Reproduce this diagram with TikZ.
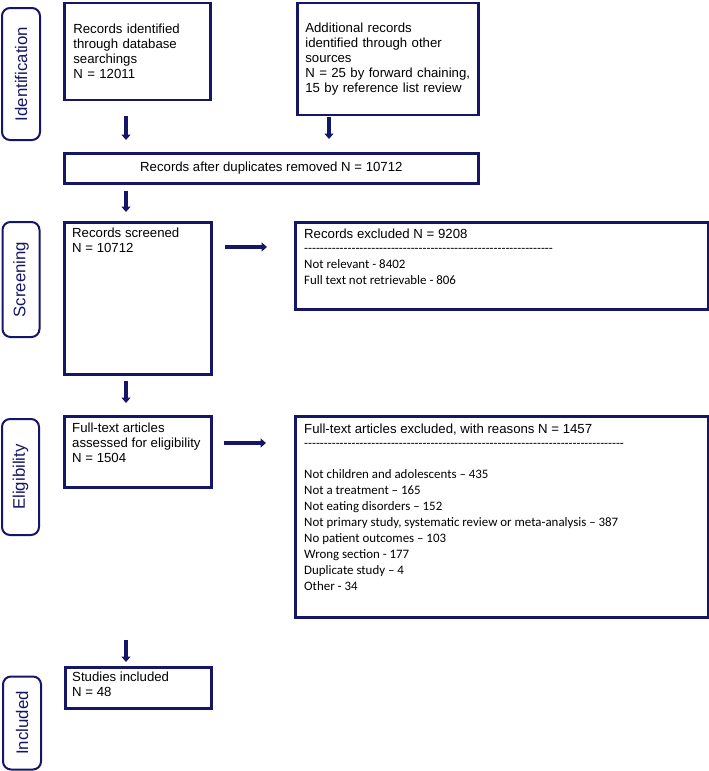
\documentclass[tikz,border=0pt]{standalone}
\usepackage{fontspec}
\setmainfont{Liberation Sans}
\newfontfamily\calibri{Carlito}
\usetikzlibrary{arrows.meta}
\usepackage{xcolor}
\definecolor{prismablue}{RGB}{22,22,104}
\newcommand{\dashrow}[1]{\foreach \k in {1,...,#1}{-}}

\begin{document}
\begin{tikzpicture}[x=1pt, y=-1pt,
	frame/.style={draw=prismablue, line width=2.7pt, inner sep=0pt, anchor=north west, font=\fontsize{13.2}{14.9}\selectfont},
	stage/.style={draw=prismablue, line width=2pt, rounded corners=8pt, rotate=90, text=prismablue, inner sep=0pt, font=\fontsize{16.8}{18}\selectfont},
	arrow/.style={draw=prismablue, line width=3.8pt, -{Triangle[length=5.5pt,width=9pt]}},
	boxtext/.style={anchor=north west, align=left, inner sep=0pt, font=\fontsize{13.2}{14.9}\selectfont},
	listtext/.style={anchor=north west, align=left, inner sep=0pt, font=\calibri\fontsize{12.9}{16.1}\selectfont}]
	\useasboundingbox (0,0) rectangle (709,771);

	% stages
	\node (idlab) [stage, minimum width=132pt, minimum height=38pt] at (21,74) {Identification};
	\node (scrlab) [stage, minimum width=115pt, minimum height=37pt] at (21,279.5) {Screening};
	\node (elilab) [stage, minimum width=116pt, minimum height=37pt] at (20.5,477) {Eligibility};
	\node (inclab) [stage, minimum width=93pt, minimum height=38pt] at (22,723) {Included};

	% boxes
	\node (dbrec) [frame, inner xsep=9pt, text width=128pt, minimum height=97pt, align=left] at (63,1.5) {Records identified\\ through database\\ searchings\\ N = 12011};
	\node (othrec) [frame, inner xsep=8pt, text width=165pt, minimum height=112pt, align=left] at (296,1.5) {Additional records\\ identified through other\\ sources\\ N = 25 by forward chaining,\\ 15 by reference list review};
	\node (dedup) [frame, minimum width=414pt, minimum height=30pt] at (63,152) {Records after duplicates removed N = 10712};

	\node (screen) [frame, minimum width=147pt, minimum height=152pt] at (63,221) {};
	\node (screentxt) [boxtext] at (72,228) {Records screened\\ N = 10712};

	\node (excl) [frame, minimum width=413pt, minimum height=87pt] at (294,221) {};
	\node (excltitle) [boxtext] at (304,229) {Records excluded N = 9208};
	\node (excldash) [listtext, anchor=base west] at (304,252.5) {\dashrow{63}};
	\node (excllist) [listtext] at (304,259) {Not relevant - 8402\\ Full text not retrievable - 806};

	\node (fulltext) [frame, minimum width=147pt, minimum height=71pt] at (63,415) {};
	\node (fulltxt) [boxtext] at (72,423) {Full-text articles\\ assessed for eligibility\\ N = 1504};

	\node (reasons) [frame, minimum width=413pt, minimum height=201pt] at (294,415) {};
	\node (reasontitle) [boxtext] at (304,424) {Full-text articles excluded, with reasons N = 1457};
	\node (reasondash) [listtext, anchor=base west] at (304,447.5) {\dashrow{81}};
	\node (reasonlist) [listtext] at (304,469) {Not children and adolescents – 435\\ Not a treatment – 165\\ Not eating disorders – 152\\ Not primary study, systematic review or meta-analysis – 387\\ No patient outcomes – 103\\ Wrong section - 177\\ Duplicate study – 4\\ Other - 34};

	\node (incl) [frame, minimum width=146pt, minimum height=41pt] at (64,666) {};
	\node (incltxt) [boxtext] at (72,672) {Studies included\\ N = 48};

	% arrows
	\coordinate (laneA) at (126,0);
	\coordinate (laneB) at (329,0);
	\coordinate (rowA) at (0,247);
	\coordinate (rowB) at (0,443);
	\draw[arrow, shorten <=15pt, shorten >=12pt] (dbrec.south -| laneA) -- (dedup.north -| laneA);
	\draw[arrow, shorten <=1pt, shorten >=13pt] (othrec.south -| laneB) -- (dedup.north -| laneB);
	\draw[arrow, shorten <=6pt, shorten >=9pt] (dedup.south -| laneA) -- (screen.north -| laneA);
	\draw[arrow, shorten <=5pt, shorten >=12pt] (screen.south -| laneA) -- (fulltext.north -| laneA);
	\draw[arrow, shorten <=151pt, shorten >=4pt] (fulltext.south -| laneA) -- (incl.north -| laneA);
	\draw[arrow, shorten <=12pt, shorten >=27pt] (screen.east |- rowA) -- (excl.west |- rowA);
	\draw[arrow, shorten <=11pt, shorten >=28pt] (fulltext.east |- rowB) -- (reasons.west |- rowB);
\end{tikzpicture}
\end{document}
